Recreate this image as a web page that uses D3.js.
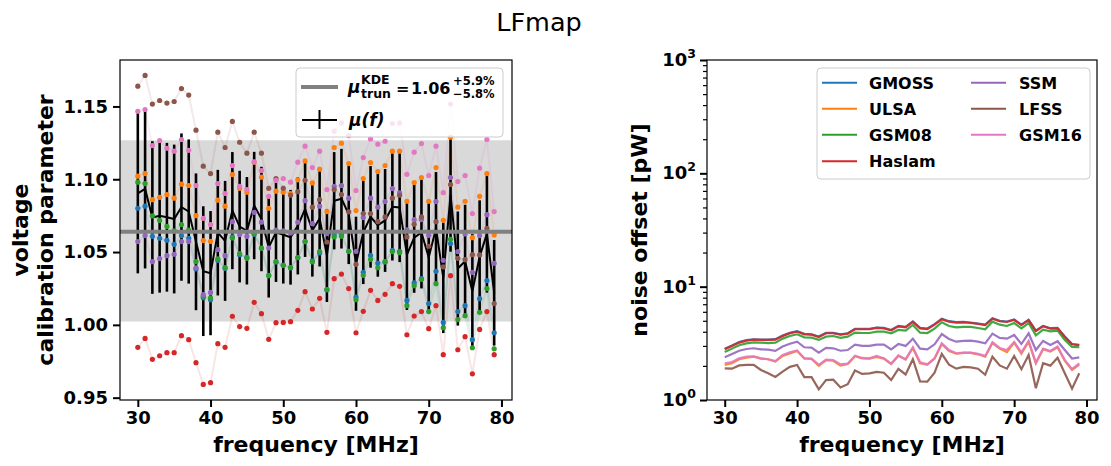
<!DOCTYPE html>
<html><head><meta charset="utf-8">
<script src="https://cdn.jsdelivr.net/npm/d3@7/dist/d3.min.js"></script>
<style>body{margin:0;background:#fff} text{font-family:"DejaVu Sans",sans-serif;}</style>
</head><body>
<svg id="c" width="1111" height="466"></svg>
<script>
// ---------------- data ----------------
const freq = [30,31,32,33,34,35,36,37,38,39,40,41,42,43,44,45,46,47,48,49,50,51,52,53,54,55,56,57,58,59,60,61,62,63,64,65,66,67,68,69,70,71,72,73,74,75,76,77,78,79];
const seriesNames = ["GMOSS","ULSA","GSM08","Haslam","SSM","LFSS","GSM16"];
const seriesColors = ["#1f77b4","#ff7f0e","#2ca02c","#d62728","#9467bd","#8c564b","#e377c2"];

// voltage calibration parameter per sky model
const calGMOSS = [1.0801,1.0815,1.0608,1.0595,1.0581,1.0553,1.0613,1.0595,1.0384,1.0187,1.0173,1.0443,1.0388,1.0604,1.0482,1.0464,1.0622,1.0528,1.0340,1.0432,1.0409,1.0393,1.0462,1.0572,1.0439,1.0494,1.0242,1.0618,1.0622,1.0505,1.0191,1.0361,1.0478,1.0425,1.0432,1.0512,1.0505,1.0168,1.0288,1.0317,1.0146,1.0368,1.0017,1.0558,1.0091,1.0132,0.9898,1.0180,1.0304,0.9946];
const calULSA  = [1.1021,1.1039,1.0860,1.0876,1.0895,1.0870,1.0966,1.0957,1.0750,1.0579,1.0574,1.0856,1.0815,1.1032,1.0938,1.0911,1.1117,1.1014,1.0801,1.0918,1.0911,1.0902,1.0996,1.1126,1.0975,1.1069,1.0778,1.1218,1.1248,1.1108,1.0785,1.1005,1.1115,1.1053,1.1094,1.1193,1.1193,1.0849,1.0977,1.1012,1.0849,1.1080,1.0718,1.1289,1.0808,1.0849,1.0599,1.0883,1.1039,1.0618];
const calGSM08 = [1.0980,1.0970,1.0748,1.0718,1.0677,1.0645,1.0689,1.0650,1.0434,1.0196,1.0185,1.0453,1.0393,1.0597,1.0489,1.0457,1.0627,1.0526,1.0338,1.0434,1.0409,1.0393,1.0462,1.0572,1.0432,1.0503,1.0242,1.0604,1.0608,1.0505,1.0173,1.0340,1.0450,1.0393,1.0434,1.0503,1.0496,1.0132,1.0269,1.0313,1.0091,1.0283,0.9981,1.0588,1.0036,1.0063,0.9843,1.0086,1.0249,0.9836];
const calHaslam= [0.9846,0.9907,0.9763,0.9788,0.9809,0.9809,0.9926,0.9898,0.9740,0.9591,0.9603,0.9871,0.9846,1.0059,0.9988,0.9976,1.0155,1.0077,0.9901,1.0015,1.0017,1.0022,1.0100,1.0228,1.0109,1.0182,0.9949,1.0317,1.0349,1.0249,0.9946,1.0093,1.0237,1.0168,1.0210,1.0283,1.0265,0.9932,1.0061,1.0091,0.9974,1.0132,0.9795,1.0338,0.9829,0.9919,0.9664,0.9969,1.0091,0.9795];
const calSSM   = [1.0572,1.0613,1.0434,1.0455,1.0475,1.0485,1.0572,1.0572,1.0391,1.0207,1.0223,1.0517,1.0475,1.0709,1.0620,1.0608,1.0773,1.0705,1.0528,1.0650,1.0645,1.0631,1.0705,1.0853,1.0695,1.0815,1.0627,1.0952,1.0957,1.0870,1.0505,1.0737,1.0870,1.0808,1.0847,1.0936,1.0906,1.0652,1.0723,1.0723,1.0615,1.0847,1.0443,1.1012,1.0503,1.0624,1.0361,1.0613,1.0757,1.0423];
const calLFSS  = [1.1639,1.1713,1.1516,1.1541,1.1523,1.1534,1.1623,1.1578,1.1337,1.1090,1.1039,1.1323,1.1218,1.1397,1.1254,1.1179,1.1323,1.1179,1.0938,1.1005,1.0938,1.0890,1.0915,1.0993,1.0808,1.0860,1.0569,1.0929,1.0895,1.0776,1.0416,1.0764,1.0764,1.0709,1.0741,1.0870,1.0890,1.0604,1.0691,1.0741,1.0540,1.0709,1.0398,1.0964,1.0457,1.0448,1.0482,1.0480,1.0663,1.0146];
const calGSM16 = [1.1467,1.1479,1.1231,1.1266,1.1213,1.1193,1.1273,1.1199,1.0957,1.0732,1.0689,1.0970,1.0902,1.1094,1.0952,1.0929,1.1119,1.1060,1.0883,1.0993,1.1005,1.0980,1.1117,1.1227,1.1080,1.1193,1.0929,1.1330,1.1387,1.1300,1.0922,1.1149,1.1277,1.1241,1.1261,1.1383,1.1387,1.1034,1.1186,1.1245,1.1025,1.1227,1.0908,1.1516,1.0984,1.1025,1.0764,1.1076,1.1273,1.0778];

// noise offset [pW] per sky model
const noiseGMOSS = [2.83,3.02,3.24,3.37,3.43,3.42,3.41,3.44,3.70,3.91,4.05,3.84,3.80,3.63,3.92,3.91,3.80,3.88,4.25,4.24,4.25,4.36,4.33,4.15,4.51,4.42,4.93,4.33,4.27,4.67,5.22,4.96,4.86,4.90,4.82,4.73,4.63,5.27,4.99,4.93,5.13,4.63,5.10,4.09,4.51,4.30,4.33,3.63,3.12,3.06];
const noiseULSA  = [2.04,2.11,2.29,2.36,2.41,2.32,2.29,2.18,2.45,2.58,2.71,2.33,2.30,2.00,2.25,2.22,2.01,2.08,2.43,2.33,2.32,2.40,2.32,2.08,2.45,2.27,2.88,2.11,2.05,2.32,3.12,2.71,2.56,2.60,2.60,2.53,2.41,3.18,2.84,2.65,3.21,2.56,3.27,2.11,2.80,2.67,2.92,2.22,1.84,2.05];
const noiseGSM08 = [2.65,2.84,3.04,3.16,3.23,3.21,3.18,3.21,3.48,3.67,3.80,3.57,3.55,3.39,3.62,3.67,3.53,3.62,3.93,3.90,3.90,4.01,4.01,3.88,4.15,4.09,4.59,3.93,3.90,4.26,4.85,4.50,4.38,4.41,4.41,4.32,4.21,4.91,4.62,4.50,4.78,4.29,4.78,3.72,4.18,4.04,4.09,3.39,2.94,2.92];
const noiseHaslam= [2.80,3.00,3.21,3.34,3.41,3.39,3.39,3.41,3.67,3.88,4.01,3.80,3.77,3.60,3.88,3.88,3.77,3.85,4.21,4.21,4.21,4.32,4.29,4.12,4.47,4.38,4.88,4.29,4.23,4.62,5.15,4.91,4.82,4.85,4.78,4.69,4.59,5.22,4.95,4.88,5.08,4.59,5.05,4.06,4.47,4.26,4.29,3.60,3.10,3.04];
const noiseSSM   = [2.38,2.55,2.72,2.82,2.86,2.80,2.78,2.71,2.96,3.14,3.27,2.92,2.90,2.62,2.88,2.86,2.72,2.76,3.08,3.00,3.00,3.08,3.08,2.80,3.12,3.00,3.48,2.84,2.80,3.10,3.82,3.46,3.27,3.32,3.34,3.27,3.16,3.85,3.53,3.48,3.75,3.12,3.88,2.76,3.32,3.06,3.30,2.76,2.32,2.38];
const noiseLFSS  = [1.90,1.89,2.02,2.04,2.04,1.84,1.72,1.60,1.78,1.96,2.04,1.59,1.59,1.24,1.50,1.51,1.29,1.38,1.82,1.70,1.72,1.77,1.74,1.50,1.88,1.68,2.29,1.46,1.45,1.74,2.55,2.05,1.89,1.96,1.94,1.89,1.67,2.41,2.02,1.89,2.45,1.87,2.50,1.27,2.11,2.01,2.36,1.72,1.26,1.72];
const noiseGSM16 = [2.11,2.16,2.33,2.41,2.43,2.33,2.29,2.21,2.50,2.63,2.74,2.33,2.32,2.04,2.27,2.25,2.06,2.09,2.46,2.35,2.33,2.45,2.33,2.09,2.48,2.29,2.92,2.15,2.06,2.33,3.16,2.76,2.58,2.62,2.62,2.55,2.45,3.23,2.88,2.76,3.25,2.63,3.32,2.13,2.84,2.71,2.96,2.25,1.87,2.11];

const muKDE = 1.064, muPlus = 0.059, muMinus = 0.058;
const xTickVals = [30,40,50,60,70,80];
const yTickValsL = [0.95,1.00,1.05,1.10,1.15];
const yTickValsR = [1,10,100,1000];
const yTickExpR = ["0","1","2","3"];

const calSeries = [calGMOSS,calULSA,calGSM08,calHaslam,calSSM,calLFSS,calGSM16];
const noiseSeries = [noiseGMOSS,noiseULSA,noiseGSM08,noiseHaslam,noiseSSM,noiseLFSS,noiseGSM16];

// mean and (population) std across models at each frequency
const muF = freq.map((f,i)=>d3.mean(calSeries,s=>s[i]));
const sdF = freq.map((f,i)=>{const m=muF[i];return Math.sqrt(d3.mean(calSeries,s=>(s[i]-m)*(s[i]-m)));});

// ---------------- layout ----------------
const svg = d3.select('#c');
const L = {x0:120,x1:512,y0:60,y1:400};
const R = {x0:707,x1:1097,y0:60,y1:400};
const xL = d3.scaleLinear().domain([27.55,81.45]).range([L.x0,L.x1]);
const yL = d3.scaleLinear().domain([0.9484,1.1819]).range([L.y1,L.y0]);
const xR = d3.scaleLinear().domain([27.55,81.45]).range([R.x0,R.x1]);
const yR = d3.scaleLog().domain([1,1000]).range([R.y1,R.y0]);
const TICKFS = 18;

const defs = svg.append('defs');
defs.append('clipPath').attr('id','clipL').append('rect').attr('x',L.x0).attr('y',L.y0).attr('width',L.x1-L.x0).attr('height',L.y1-L.y0);
defs.append('clipPath').attr('id','clipR').append('rect').attr('x',R.x0).attr('y',R.y0).attr('width',R.x1-R.x0).attr('height',R.y1-R.y0);

// title
svg.append('text').attr('x',539).attr('y',31).attr('text-anchor','middle').attr('font-size',25.5).text('LFmap');

// ---------- left panel ----------
const gL = svg.append('g').attr('clip-path','url(#clipL)');
gL.append('rect').attr('x',L.x0).attr('width',L.x1-L.x0)
  .attr('y',yL(muKDE*(1+muPlus))).attr('height',yL(muKDE*(1-muMinus))-yL(muKDE*(1+muPlus)))
  .attr('fill','grey').attr('opacity',0.3);

const lineL = d3.line().x((d,i)=>xL(freq[i])).y(d=>yL(d));
calSeries.forEach((s,k)=>{
  gL.append('path').attr('d',lineL(s)).attr('fill','none').attr('stroke',seriesColors[k]).attr('stroke-width',2).attr('opacity',0.12);
});
// error bars
gL.selectAll('line.err').data(freq).enter().append('line')
  .attr('x1',(f)=>xL(f)).attr('x2',(f)=>xL(f))
  .attr('y1',(f,i)=>yL(muF[i]-sdF[i])).attr('y2',(f,i)=>yL(muF[i]+sdF[i]))
  .attr('stroke','black').attr('stroke-width',2.6);
gL.append('path').attr('d',lineL(muF)).attr('fill','none').attr('stroke','black').attr('stroke-width',2);
calSeries.forEach((s,k)=>{
  gL.append('g').selectAll('circle').data(s).enter().append('circle')
    .attr('cx',(d,i)=>xL(freq[i])).attr('cy',d=>yL(d)).attr('r',2.6).attr('fill',seriesColors[k]);
});
gL.append('line').attr('x1',L.x0).attr('x2',L.x1).attr('y1',yL(muKDE)).attr('y2',yL(muKDE))
  .attr('stroke','grey').attr('stroke-width',4);

function styleAxis(g,fs){
  g.select('.domain').remove();
  g.selectAll('.tick line').attr('stroke','black').attr('stroke-width',2);
  g.selectAll('.tick text').attr('font-size',fs).attr('font-weight','bold').attr('fill','black').attr('font-family','DejaVu Sans');
}
const axXL = svg.append('g').attr('transform',`translate(0,${L.y1})`)
  .call(d3.axisBottom(xL).tickValues(xTickVals).tickSize(7).tickPadding(4).tickFormat(d3.format('d')));
styleAxis(axXL,TICKFS);
const axYL = svg.append('g').attr('transform',`translate(${L.x0},0)`)
  .call(d3.axisLeft(yL).tickValues(yTickValsL).tickSize(7).tickPadding(5).tickFormat(d3.format('.2f')));
styleAxis(axYL,TICKFS);
svg.append('rect').attr('x',L.x0).attr('y',L.y0).attr('width',L.x1-L.x0).attr('height',L.y1-L.y0)
  .attr('fill','none').attr('stroke','black').attr('stroke-width',1.2);

svg.append('text').attr('x',(L.x0+L.x1)/2).attr('y',452).attr('text-anchor','middle')
  .attr('font-size',22).attr('font-weight','bold').text('frequency [MHz]');
const ylab = svg.append('text').attr('transform',`translate(0,${(L.y0+L.y1)/2}) rotate(-90)`)
  .attr('text-anchor','middle').attr('font-size',22).attr('font-weight','bold');
ylab.append('tspan').attr('x',0).attr('y',28).text('voltage');
ylab.append('tspan').attr('x',0).attr('y',53).text('calibration parameter');

// left legend
const lg = svg.append('g');
lg.append('rect').attr('x',296).attr('y',68).attr('width',207).attr('height',69).attr('rx',4)
  .attr('fill','white').attr('fill-opacity',0.8).attr('stroke','#cccccc').attr('stroke-width',1);
lg.append('line').attr('x1',301).attr('x2',338).attr('y1',87).attr('y2',87).attr('stroke','grey').attr('stroke-width',4);
lg.append('text').attr('x',348).attr('y',93).attr('font-size',17).attr('font-weight','bold').attr('font-style','italic').text('μ');
lg.append('text').attr('x',361).attr('y',84).attr('font-size',12.5).attr('font-weight','bold').text('KDE');
lg.append('text').attr('x',361).attr('y',97.5).attr('font-size',12.5).attr('font-weight','bold').text('trun');
lg.append('text').attr('x',396).attr('y',94).attr('font-size',16).attr('font-weight','bold').text('=');
lg.append('text').attr('x',411).attr('y',94).attr('font-size',16).attr('font-weight','bold').text('1.06');
lg.append('text').attr('x',453).attr('y',85).attr('font-size',11.5).attr('font-weight','bold').text('+5.9%');
lg.append('text').attr('x',453).attr('y',97.5).attr('font-size',11.5).attr('font-weight','bold').text('\u22125.8%');
lg.append('line').attr('x1',302).attr('x2',337).attr('y1',120).attr('y2',120).attr('stroke','black').attr('stroke-width',2);
lg.append('line').attr('x1',319.5).attr('x2',319.5).attr('y1',110).attr('y2',129).attr('stroke','black').attr('stroke-width',2);
lg.append('text').attr('x',349).attr('y',126).attr('font-size',17).attr('font-weight','bold').attr('font-style','italic').text('μ(f)');

// ---------- right panel ----------
const gR = svg.append('g').attr('clip-path','url(#clipR)');
const lineR = d3.line().x((d,i)=>xR(freq[i])).y(d=>yR(d));
noiseSeries.forEach((s,k)=>{
  gR.append('path').attr('d',lineR(s)).attr('fill','none').attr('stroke',seriesColors[k]).attr('stroke-width',2.2).attr('opacity',0.9);
});
const axXR = svg.append('g').attr('transform',`translate(0,${R.y1})`)
  .call(d3.axisBottom(xR).tickValues(xTickVals).tickSize(7).tickPadding(4).tickFormat(d3.format('d')));
styleAxis(axXR,TICKFS);
const minorR = [];
yTickValsR.slice(0,3).forEach(d=>{for(let m=2;m<=9;m++) minorR.push(d*m);});
const axYRm = svg.append('g').attr('transform',`translate(${R.x0},0)`)
  .call(d3.axisLeft(yR).tickValues(minorR).tickSize(4).tickFormat(''));
axYRm.select('.domain').remove();
axYRm.selectAll('.tick line').attr('stroke','black').attr('stroke-width',1.2);
const axYR = svg.append('g').attr('transform',`translate(${R.x0},0)`)
  .call(d3.axisLeft(yR).tickValues(yTickValsR).tickSize(7).tickPadding(5).tickFormat(''));
styleAxis(axYR,TICKFS);
yTickValsR.forEach((v,i)=>{
  const t = svg.append('text').attr('x',R.x0-7-4).attr('y',yR(v)+6).attr('text-anchor','end')
    .attr('font-size',TICKFS).attr('font-weight','bold');
  t.append('tspan').text('10');
  t.append('tspan').attr('font-size',12.5).attr('dy',-8).text(yTickExpR[i]);
});
svg.append('rect').attr('x',R.x0).attr('y',R.y0).attr('width',R.x1-R.x0).attr('height',R.y1-R.y0)
  .attr('fill','none').attr('stroke','black').attr('stroke-width',1.2);
svg.append('text').attr('x',(R.x0+R.x1)/2).attr('y',452).attr('text-anchor','middle')
  .attr('font-size',22).attr('font-weight','bold').text('frequency [MHz]');
svg.append('text').attr('transform',`translate(647,${(R.y0+R.y1)/2}) rotate(-90)`)
  .attr('text-anchor','middle').attr('font-size',22).attr('font-weight','bold').text('noise offset [pW]');

// right legend
const rg = svg.append('g');
rg.append('rect').attr('x',817).attr('y',68).attr('width',273).attr('height',111).attr('rx',4)
  .attr('fill','white').attr('fill-opacity',0.8).attr('stroke','#cccccc').attr('stroke-width',1);
const rowY = [82.7,108.7,134.7,161.3];
seriesNames.forEach((n,k)=>{
  const col = k<4?0:1, row = k<4?k:k-4;
  const lx = col===0?822:971, tx = col===0?869:1019;
  rg.append('line').attr('x1',lx).attr('x2',lx+35).attr('y1',rowY[row]).attr('y2',rowY[row])
    .attr('stroke',seriesColors[k]).attr('stroke-width',2);
  rg.append('text').attr('x',tx).attr('y',rowY[row]+6).attr('font-size',16).attr('font-weight','bold').text(n);
});
</script>
</body></html>
